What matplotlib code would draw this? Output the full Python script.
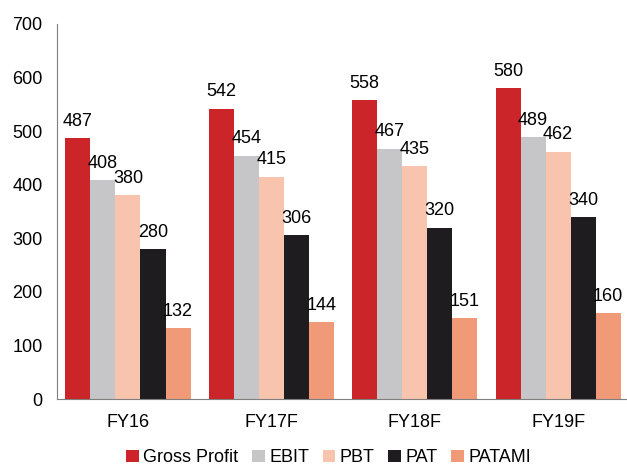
import matplotlib
matplotlib.use("Agg")
import matplotlib.pyplot as plt
import numpy as np

categories = ["FY16", "FY17F", "FY18F", "FY19F"]
series_names = ["Gross Profit", "EBIT", "PBT", "PAT", "PATAMI"]
gross_profit = [487, 542, 558, 580]
ebit = [408, 454, 467, 489]
pbt = [380, 415, 435, 462]
pat = [280, 306, 320, 340]
patami = [132, 144, 151, 160]
colors = ["#CC2529", "#C6C6C8", "#F9C4AE", "#1E1C1F", "#F09A78"]

plt.rcParams['font.family'] = ['Liberation Sans', 'DejaVu Sans']
FS = 13

fig = plt.figure(figsize=(6.27, 4.67), dpi=100)
ax = fig.add_axes([57/627, 68/467, 1 - 57/627, (399-24)/467])

values = [gross_profit, ebit, pbt, pat, patami]
x = np.arange(len(categories))
w = 0.1745
for i, (name, vals, c) in enumerate(zip(series_names, values, colors)):
    pos = x + (i - 2) * w
    ax.bar(pos, vals, width=w, color=c, label=name)
    for p, v in zip(pos, vals):
        ax.annotate(str(v), (p, v), xytext=(0, 6), textcoords="offset points",
                    ha="center", va="bottom", fontsize=FS, color="black")

ax.set_ylim(0, 700)
ax.set_yticks(range(0, 701, 100))
ax.set_xlim(-0.495, 3.48)
ax.set_xticks(x)
ax.set_xticklabels(categories)
ax.tick_params(axis='both', length=0, labelsize=FS)
ax.tick_params(axis='y', pad=10.5)
ax.tick_params(axis='x', pad=11)
for s in ["top", "right"]:
    ax.spines[s].set_visible(False)
ax.spines["left"].set_color("#7F7F7F")
ax.spines["bottom"].set_color("#7F7F7F")

fig.legend(loc="center", bbox_to_anchor=(0.524, 0.02), ncol=5, frameon=False,
           fontsize=FS, handlelength=0.7, handleheight=0.7, handletextpad=0.25,
           columnspacing=0.75, borderaxespad=0)

fig.savefig("out.png", dpi=100)
